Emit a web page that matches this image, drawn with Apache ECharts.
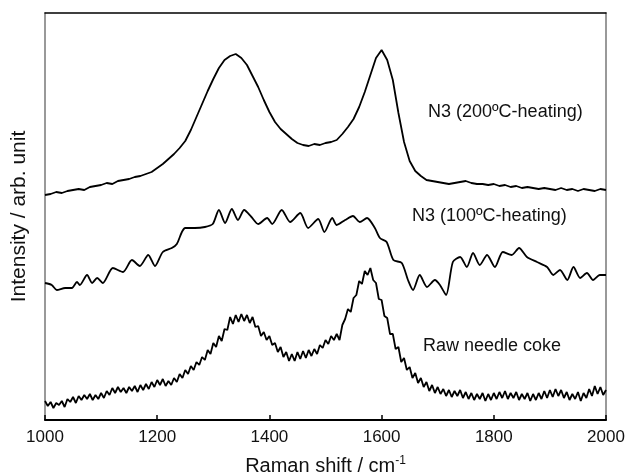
<!DOCTYPE html>
<html>
<head>
<meta charset="utf-8">
<script src="https://cdn.jsdelivr.net/npm/echarts@6/dist/echarts.min.js"></script>
<style>
	html, body { margin: 0; padding: 0; background: #fff; }
	#chart { width: 626px; height: 475px; }
</style>
</head>
<body>
<div id="chart"></div>
<script>
// x ticks
const xTicks = [1000, 1200, 1400, 1600, 1800, 2000]

// N3 (200ºC-heating), sampled every 10 cm-1 from 1000
const heat200Start = 1000
const heat200Step = 10
const heat200 = [
	225, 226, 228, 227, 229, 230, 231, 230, 233, 234,
	235, 237, 236, 239, 240, 241, 243, 244, 246, 248,
	252, 256, 261, 266, 272, 279, 290, 303, 316, 329,
	341, 352, 360, 364, 366, 362, 355, 344, 333, 320,
	308, 298, 291, 286, 281, 277, 275, 274, 276, 275,
	277, 278, 280, 286, 293, 301, 313, 328, 345, 362,
	370, 360, 340, 307, 278, 259, 249, 244, 240, 239,
	238, 237, 236, 237, 238, 239, 237, 236, 236, 235,
	236, 234, 235, 233, 234, 232, 233, 232, 231, 232,
	231, 230, 232, 230, 231, 229, 231, 230, 229, 231,
	230
]

// N3 (100ºC-heating)
const heat100Shift = [
	1000, 1012, 1021, 1036, 1048, 1057, 1062, 1075, 1084, 1093,
	1103, 1121, 1139, 1155, 1169, 1184, 1196, 1210, 1226, 1235,
	1244, 1250, 1267, 1285, 1299, 1310, 1321, 1333, 1344, 1355,
	1368, 1380, 1396, 1405, 1422, 1437, 1455, 1469, 1487, 1498,
	1512, 1520, 1535, 1549, 1561, 1574, 1588, 1597, 1609, 1621,
	1636, 1647, 1656, 1668, 1681, 1695, 1704, 1715, 1727, 1740,
	1752, 1763, 1775, 1788, 1802, 1816, 1832, 1845, 1859, 1877,
	1895, 1906, 1918, 1931, 1942, 1954, 1966, 1977, 1989, 2000
]
const heat100 = [
	137, 135, 130, 132, 132, 138, 135, 145, 137, 142,
	137, 152, 148, 160, 154, 165, 154, 168, 172, 176,
	188, 192, 192, 193, 196, 210, 197, 211, 200, 210,
	203, 196, 202, 196, 210, 198, 207, 192, 201, 188,
	202, 195, 200, 204, 198, 202, 192, 182, 178, 160,
	157, 140, 130, 145, 133, 140, 135, 125, 158, 163,
	153, 167, 155, 165, 153, 168, 165, 172, 163, 158,
	153, 145, 150, 140, 153, 142, 147, 140, 145, 145
]

// Raw needle coke, sampled every 5 cm-1 from 1000
const rawStart = 1000
const rawStep = 5
const rawCoke = [
	19, 14, 18, 12, 17, 15, 19, 13, 21, 18,
	23, 17, 24, 20, 25, 21, 26, 20, 25, 21,
	27, 22, 29, 25, 32, 27, 33, 28, 32, 27,
	33, 29, 34, 28, 35, 30, 36, 31, 38, 33,
	40, 35, 41, 34, 39, 35, 42, 38, 46, 42,
	50, 46, 54, 50, 58, 55, 63, 60, 70, 66,
	77, 73, 84, 79, 91, 90, 103, 96, 105, 98,
	106, 99, 105, 97, 103, 93, 94, 84, 88, 80,
	84, 75, 77, 68, 73, 63, 68, 59, 66, 59,
	68, 61, 69, 62, 70, 64, 71, 66, 75, 72,
	80, 76, 84, 80, 86, 80, 95, 101, 111, 108,
	122, 125, 139, 136, 149, 145, 152, 140, 137, 121,
	120, 104, 102, 86, 86, 71, 73, 58, 62, 50,
	53, 42, 47, 37, 42, 33, 38, 29, 35, 27,
	33, 26, 31, 24, 30, 23, 29, 24, 30, 22,
	28, 21, 27, 20, 26, 21, 27, 19, 26, 20,
	27, 21, 28, 22, 29, 21, 27, 22, 28, 20,
	26, 21, 27, 19, 26, 20, 27, 21, 29, 22,
	30, 23, 31, 24, 30, 22, 28, 20, 26, 21,
	28, 19, 27, 22, 31, 24, 34, 26, 33, 25,
	30
]

const toPairs = function(start, step, vals) {
	return vals.map((v, i) => [start + i * step, v])
}

const lineSeries = function(data, width, smooth) {
	return {
		type: 'line',
		data: data,
		showSymbol: false,
		symbol: 'none',
		smooth: smooth || false,
		lineStyle: { color: '#000', width: width },
		silent: true
	}
}

let myChart = echarts.init(document.getElementById('chart'))

const labelFont = 'Liberation Sans, Arial, sans-serif'

const option = {
	animation: false,
	backgroundColor: '#fff',
	grid: { left: 45, right: 20, top: 13, bottom: 55, outerBoundsMode: 'none', containLabel: false },
	xAxis: [
		{
			type: 'value',
			min: 1000,
			max: 2000,
			interval: 200,
			name: 'Raman shift / cm{sup|-1}',
			nameLocation: 'middle',
			nameGap: 35,
			nameTextStyle: {
				color: '#111',
				fontSize: 20,
				fontFamily: labelFont,
				rich: {
					sup: { fontSize: 12, verticalAlign: 'top', padding: [0, 0, 10, 0], fontFamily: labelFont, color: '#111' }
				}
			},
			axisLine: { show: true, onZero: false, lineStyle: { color: '#000', width: 2 } },
			axisTick: { show: true, inside: true, length: 5, lineStyle: { color: '#000', width: 1.5 } },
			axisLabel: {
				color: '#111',
				fontSize: 17,
				fontFamily: labelFont,
				margin: 9,
				formatter: function(v) { return xTicks.indexOf(v) >= 0 ? String(v) : '' }
			},
			splitLine: { show: false }
		},
		{
			type: 'value',
			position: 'top',
			min: 1000,
			max: 2000,
			axisLine: { show: true, onZero: false, lineStyle: { color: '#000', width: 1.5 } },
			axisTick: { show: false },
			axisLabel: { show: false },
			splitLine: { show: false }
		}
	],
	yAxis: [
		{
			type: 'value',
			min: 0,
			max: 407,
			name: 'Intensity / arb. unit',
			nameLocation: 'middle',
			nameGap: 15,
			nameTextStyle: { color: '#111', fontSize: 21, fontFamily: labelFont },
			axisLine: { show: true, onZero: false, lineStyle: { color: '#777', width: 1.5 } },
			axisTick: { show: false },
			axisLabel: { show: false },
			splitLine: { show: false }
		},
		{
			type: 'value',
			position: 'right',
			min: 0,
			max: 407,
			axisLine: { show: true, onZero: false, lineStyle: { color: '#777', width: 1.5 } },
			axisTick: { show: false },
			axisLabel: { show: false },
			splitLine: { show: false }
		}
	],
	graphic: [
		{ type: 'text', left: 428, top: 103, style: { text: 'N3 (200ºC-heating)', fontSize: 18, fontFamily: labelFont, fill: '#111' } },
		{ type: 'text', left: 412, top: 207, style: { text: 'N3 (100ºC-heating)', fontSize: 18, fontFamily: labelFont, fill: '#111' } },
		{ type: 'text', left: 423, top: 337, style: { text: 'Raw needle coke', fontSize: 18, fontFamily: labelFont, fill: '#111' } }
	],
	series: [
		lineSeries(toPairs(heat200Start, heat200Step, heat200), 1.8),
		lineSeries(heat100Shift.map((x, i) => [x, heat100[i]]), 1.8, 0.25),
		lineSeries(toPairs(rawStart, rawStep, rawCoke), 1.8)
	]
}

myChart.setOption(option)
</script>
</body>
</html>
